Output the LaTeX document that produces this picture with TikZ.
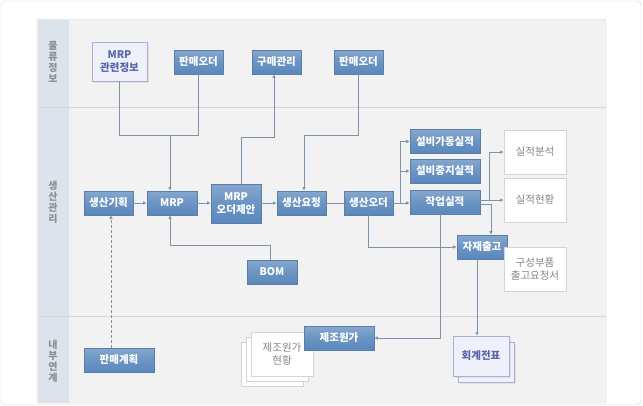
\documentclass[tikz,border=0pt]{standalone}
\usepackage{fontspec}
\newfontfamily\kr{Noto Sans CJK KR}
\usetikzlibrary{shadows,arrows.meta}
\definecolor{linec}{HTML}{7D93AD}
\definecolor{boxborder}{HTML}{5A7EA8}
\definecolor{bA}{HTML}{6E9BD0}
\definecolor{bB}{HTML}{5282BA}
\definecolor{bC}{HTML}{6B94C2}
\definecolor{bD}{HTML}{A0BBD9}
\definecolor{panelc}{HTML}{F2F2F2}
\definecolor{colc}{HTML}{DDE3EA}
\definecolor{divc}{HTML}{D2D5D9}
\definecolor{lavfill}{HTML}{EEF0FA}
\definecolor{lavborder}{HTML}{A9AFD6}
\definecolor{lavtext}{HTML}{5865A8}
\definecolor{graytext}{HTML}{858585}
\definecolor{labtext}{HTML}{8C9095}
\definecolor{wborder}{HTML}{D4D4D4}
\pgfdeclareverticalshading{bluesh}{100bp}{color(0bp)=(bA); color(14bp)=(bB); color(50bp)=(bC); color(100bp)=(bD)}
\begin{document}
\begin{tikzpicture}[x=1pt,y=-1pt,font=\kr,
  bluebox/.style={draw=boxborder,line width=0.6pt,shading=bluesh,text=white,
    font=\kr\bfseries\fontsize{10.5}{13}\selectfont,inner sep=0pt,
    minimum width=49pt,minimum height=24pt,align=center},
  whitebox/.style={draw=wborder,fill=white,text=graytext,
    font=\kr\fontsize{10.5}{13.5}\selectfont,inner sep=0pt,
    minimum width=62pt,minimum height=44pt,align=center,
    drop shadow={opacity=0.18,shadow xshift=1.2pt,shadow yshift=-1.2pt}},
  lavbox/.style={draw=lavborder,fill=lavfill,text=lavtext,
    font=\kr\bfseries\fontsize{10.5}{13.5}\selectfont,inner sep=0pt,align=center,
    drop shadow={opacity=0.15,shadow xshift=2pt,shadow yshift=-2pt}},
  rowlab/.style={text=labtext,font=\kr\bfseries\fontsize{10}{11}\selectfont,align=center,inner sep=0pt},
  conn/.style={draw=linec,line width=0.7pt},
  arr/.style={conn,-{Latex[length=3.5pt,width=3.5pt]}}]
\useasboundingbox (0,0) rectangle (643,405);
% outer frame
\draw[draw=wborder,fill=white,rounded corners=4pt] (1,1) rectangle (641,404.5);
% inner panel
\draw[draw=divc,fill=panelc,rounded corners=2pt] (37,19) rectangle (606,403);
\fill[colc] (37.5,19.5) rectangle (69,402.5);
\draw[divc,line width=0.8pt] (37.5,107) -- (605.5,107);
\draw[divc,line width=0.8pt] (37.5,316) -- (605.5,316);
% row labels
\node[rowlab] (lab1) at (53,62) {물\\류\\정\\보};
\node[rowlab] (lab2) at (53,202.5) {생\\산\\관\\리};
\node[rowlab] (lab3) at (53,361.5) {내\\부\\연\\계};
% top row
\node[lavbox,minimum width=55pt,minimum height=39pt] (mrpinfo) at (119.5,61.5) {MRP\\관련정보};
\node[bluebox] (po1) at (198.5,62) {판매오더};
\node[bluebox] (gm) at (276.5,62) {구매관리};
\node[bluebox] (po2) at (358.5,62) {판매오더};
% middle row
\node[bluebox] (plan) at (108.5,203) {생산기획};
\node[bluebox,minimum width=50pt] (mrp) at (172,203) {MRP};
\node[bluebox,minimum width=50pt,minimum height=39pt] (prop) at (236,203.5) {MRP\\오더제안};
\node[bluebox] (req) at (301.5,203) {생산요청};
\node[bluebox] (order) at (368.5,203) {생산오더};
\node[bluebox,minimum width=70pt] (eq1) at (445,141.5) {설비가동실적};
\node[bluebox,minimum width=70pt] (eq2) at (445,171) {설비중지실적};
\node[bluebox,minimum width=70pt] (perf) at (445,202) {작업실적};
\node[bluebox,minimum width=50pt] (issue) at (482,247) {자재출고};
\node[bluebox,minimum width=50pt] (bom) at (272,272) {BOM};
\node[whitebox] (an) at (535,152) {실적분석};
\node[whitebox] (st) at (535,200) {실적현황};
\node[whitebox] (bp) at (535,269) {구성부품\\출고요청서};
% bottom row
\node[bluebox,minimum width=70pt] (sp) at (119,360) {판매계획};
\node[whitebox] (paper3) at (272,364) {};
\node[whitebox] (paper2) at (277,359) {};
\node[whitebox] (costst) at (282,354) {제조원가\\현황};
\node[bluebox,minimum width=70pt] (cost) at (339,338) {제조원가};
\node[lavbox,minimum width=56pt,minimum height=40pt] (acct2) at (486,362) {};
\node[lavbox,minimum width=56pt,minimum height=40pt] (acct) at (481,356) {회계전표};
% junction coordinates
\coordinate (j1) at (170,135);
\coordinate (j2) at (274,137);
\coordinate (p2) at (241,0);
\coordinate (j3) at (304,135);
\coordinate (j4) at (400,203);
\coordinate (j5) at (489,200);
\coordinate (j6) at (491,204);
\coordinate (j7) at (440,338);
\coordinate (j8) at (477,0);
\coordinate (j9) at (170,245);
\coordinate (p9) at (270,0);
\coordinate (p10) at (111,0);
% connectors
\draw[arr] (mrpinfo.south) |- (j1) -- (j1 |- mrp.north);
\draw[conn] (po1.south) |- (j1);
\draw[arr] (prop.north -| p2) |- (j2) -- (j2 |- gm.south);
\draw[arr] (po2.south) |- (j3) -- (j3 |- req.north);
\draw[arr] (plan.east) -- (mrp.west);
\draw[arr] (mrp.east) -- (mrp.east -| prop.west);
\draw[arr] (req.west -| prop.east) -- (req.west);
\draw[conn] (req.east) -- (order.west);
\draw[arr] (order.east) -- (order.east -| perf.west);
\draw[arr] (j4) |- (eq1.west);
\draw[arr] (j4) |- (eq2.west);
\draw[arr] (st.west -| perf.east) -- (st.west);
\draw[arr] (j5) |- (an.west);
\draw[arr] (perf.east |- j6) -| (j6 |- issue.north);
\draw[arr] (order.south) |- (issue.west);
\draw[arr] (perf.south -| j7) |- (cost.east);
\draw[arr] (issue.south -| j8) -- (acct.north -| j8);
\draw[arr] (bom.north -| p9) |- (j9) -- (j9 |- mrp.south);
\draw[arr,dashed,dash pattern=on 3pt off 2pt] (sp.north -| p10) -- (plan.south -| p10);
\end{tikzpicture}
\end{document}
